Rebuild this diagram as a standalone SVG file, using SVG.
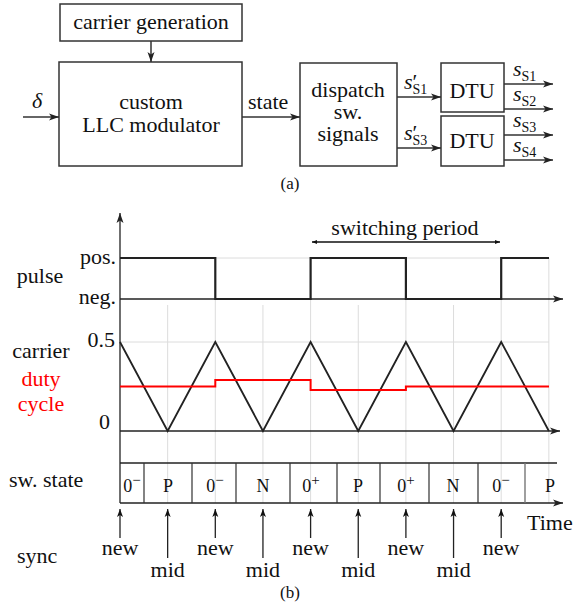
<svg xmlns="http://www.w3.org/2000/svg" width="573" height="608" viewBox="0 0 573 608" font-family="'Liberation Serif', 'DejaVu Serif', serif">
<defs>
<marker id="ah" markerWidth="10" markerHeight="8" refX="10" refY="4" orient="auto" markerUnits="userSpaceOnUse">
<path d="M0,0.5 L10,4 L0,7.5 L2.5,4 z" fill="#222"/>
</marker>
<marker id="ahs" markerWidth="8" markerHeight="10" refX="8" refY="3.5" orient="auto" markerUnits="userSpaceOnUse">
<path d="M0,0.5 L8,3.5 L0,6.5 L2,3.5 z" fill="#111"/>
</marker>
<marker id="tk" markerWidth="6" markerHeight="6" refX="5" refY="3" orient="auto" markerUnits="userSpaceOnUse">
<path d="M0,1 L5,3 L0,5 z" fill="#111"/>
</marker>
<marker id="tks" markerWidth="6" markerHeight="6" refX="1" refY="3" orient="auto" markerUnits="userSpaceOnUse">
<path d="M6,1 L1,3 L6,5 z" fill="#111"/>
</marker>
</defs>
<style>
text{font-family:'Liberation Serif','DejaVu Serif',serif;font-size:22px;fill:#111}
.box{fill:#fff;stroke:#333;stroke-width:1.5}
.c{text-anchor:middle}
.r{text-anchor:end}
.it{font-style:italic}
.sub{font-size:14px;font-style:normal}
.conn{fill:none;stroke:#333;stroke-width:1.5;marker-end:url(#ah)}
.grid{stroke:#dcdcdc;stroke-width:1;fill:none}
.ax{stroke:#222;stroke-width:1.3;fill:none}
.cell{font-size:18px;text-anchor:middle}
.sup{font-size:15px}
.red{fill:#ff0000}
.sync{stroke:#222;stroke-width:1.3;fill:none;marker-end:url(#ahs)}
</style>

<!-- (a) block diagram -->
<g id="carrier-generation">
<rect class="box" x="60" y="4" width="182" height="37"/>
<text class="c" x="151" y="29">carrier generation</text>
</g>
<g id="llc-modulator">
<rect class="box" x="59" y="62" width="183" height="104"/>
<text class="c" x="151" y="109">custom</text>
<text class="c" x="151" y="132">LLC modulator</text>
</g>
<g id="dispatch">
<rect class="box" x="300" y="63" width="97" height="103"/>
<text class="c" x="348" y="97">dispatch</text>
<text class="c" x="348" y="119">sw.</text>
<text class="c" x="348" y="141">signals</text>
</g>
<g id="dtu1">
<rect class="box" x="441" y="63" width="63" height="49"/>
<text class="c" x="472" y="98">DTU</text>
</g>
<g id="dtu2">
<rect class="box" x="441" y="116" width="63" height="50"/>
<text class="c" x="472" y="148">DTU</text>
</g>
<g id="connectors-a">
<line class="conn" x1="151" y1="41" x2="151" y2="62"/>
<line class="conn" x1="23" y1="117" x2="59" y2="117"/>
<line class="conn" x1="242" y1="117" x2="300" y2="117"/>
<line class="conn" x1="397" y1="97" x2="441" y2="97"/>
<line class="conn" x1="397" y1="148" x2="441" y2="148"/>
<line class="conn" x1="504" y1="84" x2="553" y2="84"/>
<line class="conn" x1="504" y1="109" x2="553" y2="109"/>
<line class="conn" x1="504" y1="135" x2="553" y2="135"/>
<line class="conn" x1="504" y1="160" x2="553" y2="160"/>
</g>
<g id="labels-a">
<text class="it" x="32" y="108">δ</text>
<text x="248" y="109">state</text>
<text class="it" x="404" y="89">s<tspan font-style="normal">′</tspan><tspan class="sub" dx="-5" dy="5">S1</tspan></text>
<text class="it" x="404" y="140">s<tspan font-style="normal">′</tspan><tspan class="sub" dx="-5" dy="5">S3</tspan></text>
<text class="it" x="513" y="76">s<tspan class="sub" dy="5">S1</tspan></text>
<text class="it" x="513" y="101">s<tspan class="sub" dy="5">S2</tspan></text>
<text class="it" x="513" y="127">s<tspan class="sub" dy="5">S3</tspan></text>
<text class="it" x="513" y="152">s<tspan class="sub" dy="5">S4</tspan></text>
<text class="c" x="290" y="189" style="font-size:17px">(a)</text>
</g>

<!-- (b) timing diagram -->
<g id="grid">
<path class="grid" d="M120,258 H549 M120,342 H549"/>
<path class="grid" d="M215.3,258 V503 M310.6,258 V503 M405.9,258 V503 M501.2,258 V503 M548.85,258 V503"/>
<path class="grid" d="M167.65,305 V503 M262.95,305 V503 M358.25,305 V503 M453.55,305 V503"/>
</g>
<g id="axes">
<line class="ax" x1="120" y1="503" x2="120" y2="213" marker-end="url(#ah)"/>
<line class="ax" x1="120" y1="299" x2="563" y2="299" marker-end="url(#ah)"/>
<line class="ax" x1="120" y1="431" x2="560" y2="431" marker-end="url(#ah)"/>
<line class="ax" x1="120" y1="503" x2="563" y2="503" marker-end="url(#ah)"/>
<line class="ax" x1="120" y1="463" x2="557" y2="463"/>
</g>
<g id="pulse">
<path d="M120,258 H215.3 V299 H310.6 V258 H405.9 V299 H501.2 V258 H549" fill="none" stroke="#222" stroke-width="2.2"/>
</g>
<g id="period">
<line x1="312" y1="242" x2="500" y2="242" stroke="#111" stroke-width="1.3" marker-start="url(#tks)" marker-end="url(#tk)"/>
<text class="c" x="405" y="235">switching period</text>
</g>
<g id="carrier">
<path d="M120,342 L167.65,431 L215.3,342 L262.95,431 L310.6,342 L358.25,431 L405.9,342 L453.55,431 L501.2,342 L548.85,431" fill="none" stroke="#222" stroke-width="1.8"/>
</g>
<g id="duty-cycle">
<path d="M120,386.5 H215.3 V380 H310.6 V390 H405.9 V386.5 H549" fill="none" stroke="#ff0000" stroke-width="2"/>
</g>
<g id="sw-state">
<path d="M144,463 V503 M192,463 V503 M236,463 V503 M290,463 V503 M337,463 V503 M380,463 V503 M429,463 V503 M478,463 V503" stroke="#333" stroke-width="1.2" fill="none"/>
<path d="M525,463 V503" stroke="#777" stroke-width="1.4" fill="none"/>
<text class="cell" x="132" y="492">0<tspan class="sup" dy="-7">−</tspan></text>
<text class="cell" x="168" y="492">P</text>
<text class="cell" x="215" y="492">0<tspan class="sup" dy="-7">−</tspan></text>
<text class="cell" x="263" y="492">N</text>
<text class="cell" x="311" y="492">0<tspan class="sup" dy="-7">+</tspan></text>
<text class="cell" x="358" y="492">P</text>
<text class="cell" x="406" y="492">0<tspan class="sup" dy="-7">+</tspan></text>
<text class="cell" x="453" y="492">N</text>
<text class="cell" x="501" y="492">0<tspan class="sup" dy="-7">−</tspan></text>
<text class="cell" x="550" y="492">P</text>
</g>
<g id="sync">
<line class="sync" x1="120" y1="538" x2="120" y2="509"/>
<line class="sync" x1="215.3" y1="538" x2="215.3" y2="509"/>
<line class="sync" x1="310.6" y1="538" x2="310.6" y2="509"/>
<line class="sync" x1="405.9" y1="538" x2="405.9" y2="509"/>
<line class="sync" x1="501.2" y1="538" x2="501.2" y2="509"/>
<line class="sync" x1="167.65" y1="558" x2="167.65" y2="509"/>
<line class="sync" x1="262.95" y1="558" x2="262.95" y2="509"/>
<line class="sync" x1="358.25" y1="558" x2="358.25" y2="509"/>
<line class="sync" x1="453.55" y1="558" x2="453.55" y2="509"/>
<text class="c" x="120" y="555">new</text>
<text class="c" x="215.3" y="555">new</text>
<text class="c" x="310.6" y="555">new</text>
<text class="c" x="405.9" y="555">new</text>
<text class="c" x="501.2" y="555">new</text>
<text class="c" x="167.65" y="577">mid</text>
<text class="c" x="262.95" y="577">mid</text>
<text class="c" x="358.25" y="577">mid</text>
<text class="c" x="453.55" y="577">mid</text>
<text x="527" y="530">Time</text>
</g>
<g id="labels-b">
<text class="c" x="40" y="283">pulse</text>
<text class="r" x="116" y="264">pos.</text>
<text class="r" x="116" y="304">neg.</text>
<text class="c" x="41" y="358">carrier</text>
<text class="c red" x="41" y="386">duty</text>
<text class="c red" x="41" y="411">cycle</text>
<text class="r" x="115" y="347">0.5</text>
<text class="r" x="110" y="429">0</text>
<text x="9" y="487">sw. state</text>
<text x="17" y="563">sync</text>
<text class="c" x="290" y="598" style="font-size:17px">(b)</text>
</g>
</svg>
